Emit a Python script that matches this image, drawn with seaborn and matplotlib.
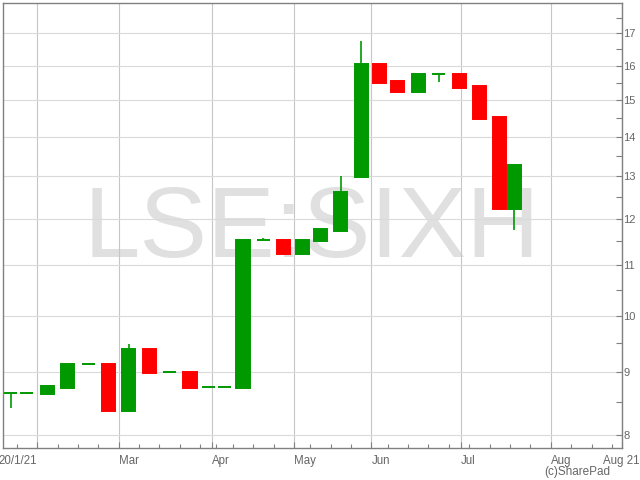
import matplotlib
matplotlib.use('Agg')
import numpy as np
import pandas as pd
import matplotlib.pyplot as plt
from matplotlib.ticker import FixedLocator, FixedFormatter, NullFormatter
import seaborn as sns

sns.set_theme(style='white')
plt.rcParams['font.family'] = ['Liberation Sans', 'DejaVu Sans']

# weekly candles for LSE:SIXH, 20 Jan 2021 - 20 Jul 2021
week_start = ['2021-01-20', '2021-01-25', '2021-02-01', '2021-02-08', '2021-02-15',
              '2021-02-22', '2021-03-01', '2021-03-08', '2021-03-15', '2021-03-22',
              '2021-03-29', '2021-04-06', '2021-04-12', '2021-04-19', '2021-04-26',
              '2021-05-04', '2021-05-10', '2021-05-17', '2021-05-24', '2021-06-01',
              '2021-06-07', '2021-06-14', '2021-06-21', '2021-06-28', '2021-07-05',
              '2021-07-12', '2021-07-19']
last_day = '2021-07-20'
opens = [8.65, 8.65, 8.64, 8.73, 9.13, 9.14, 8.36, 9.39, 9.00, 9.00, 8.75, 8.75, 8.73, 11.52,
         11.53, 11.24, 11.50, 11.73, 12.98, 16.04, 15.54, 15.23, 15.76, 15.76, 15.39, 14.52, 12.22]
highs = [8.65, 8.65, 8.76, 9.14, 9.13, 9.14, 9.49, 9.39, 9.00, 9.00, 8.75, 8.75, 11.53, 11.58,
         11.53, 11.53, 11.77, 13.01, 16.75, 16.04, 15.54, 15.76, 15.76, 15.76, 15.39, 14.52, 13.27]
lows = [8.41, 8.65, 8.64, 8.73, 9.13, 8.36, 8.36, 8.98, 9.00, 8.73, 8.75, 8.75, 8.73, 11.52,
        11.24, 11.24, 11.50, 11.73, 12.98, 15.49, 15.23, 15.23, 15.51, 15.34, 14.47, 12.22, 11.75]
closes = [8.65, 8.65, 8.76, 9.14, 9.13, 8.36, 9.39, 8.98, 9.00, 8.73, 8.75, 8.75, 11.53, 11.52,
          11.24, 11.53, 11.77, 12.62, 16.04, 15.49, 15.23, 15.76, 15.76, 15.34, 14.47, 12.22, 13.27]

month_ticks = ['2021-02-01', '2021-03-01', '2021-04-01', '2021-05-04', '2021-06-01',
               '2021-07-01', '2021-08-02']
month_labels = ['20/1/21', 'Mar', 'Apr', 'May', 'Jun', 'Jul', 'Aug']
end_label = 'Aug 21'
price_ticks = [8, 9, 10, 11, 12, 13, 14, 15, 16, 17]

uk_holidays = ['2021-04-02', '2021-04-05', '2021-05-03', '2021-05-31', '2021-08-30']

UP = '#009900'
DOWN = '#ff0000'
GREY = '#808080'
TXT = '#666666'

# trading-day axis (no weekends / bank holidays), like the SharePad chart
days = pd.bdate_range('2021-01-20', '2021-08-31', freq='C', holidays=uk_holidays)
pos = pd.Series(np.arange(len(days)), index=days)

starts = pd.to_datetime(week_start)
ends = list(starts[1:]) + [pd.Timestamp(last_day) + pd.Timedelta(days=1)]
ndays = np.array([((days >= s) & (days < e)).sum() for s, e in zip(starts, ends)])
x = pos[starts].values + ndays / 2

df = pd.DataFrame({'x': x, 'open': opens, 'high': highs, 'low': lows, 'close': closes})
df['up'] = df['close'] >= df['open']
df['color'] = np.where(df['up'], UP, DOWN)
df['bottom'] = df[['open', 'close']].min(axis=1)
df['height'] = (df['close'] - df['open']).abs()

fig = plt.figure(figsize=(6.4, 4.8), dpi=100)
ax = fig.add_axes([3.3 / 640, 1 - 448 / 480, 618.4 / 640, 445 / 480])

ax.text(0.4987, 0.43, 'LSE:SIXH', transform=ax.transAxes, ha='center', va='baseline',
        fontsize=73, color='black', alpha=0.12, zorder=0)

ax.vlines(df['x'], df['low'], df['high'], colors=df['color'], linewidth=1.2, zorder=2)
ax.bar(df['x'], df['height'], bottom=df['bottom'], width=3.2, color=df['color'],
       edgecolor=df['color'], linewidth=1.4, zorder=3)

ax.set_yscale('log')
ax.yaxis.set_major_locator(FixedLocator(price_ticks))
ax.yaxis.set_major_formatter(FixedFormatter([str(v) for v in price_ticks]))
ax.yaxis.set_minor_locator(FixedLocator(np.arange(8.5, 18, 1)))
ax.yaxis.set_minor_formatter(NullFormatter())
ax.yaxis.tick_right()
ax.set_ylim(7.8, 18.0)

x_right = pos[pd.Timestamp('2021-08-02')] + 17.4
major_x = list(pos[pd.to_datetime(month_ticks)].values) + [x_right]
wk = days.isocalendar().week.values
minor_x = pos.values[1:][wk[1:] != wk[:-1]]
ax.set_xticks(major_x)
ax.set_xticklabels(month_labels + [end_label])
ax.set_xticks(minor_x, minor=True)
ax.set_xlim(-0.3, x_right)
labels = ax.get_xticklabels()
labels[0].set_ha('right')
for lab in labels[1:-1]:
    lab.set_ha('left')
labels[-1].set_ha('center')

ax.tick_params(axis='x', which='major', direction='in', length=4.3, width=0.8,
               color=GREY, labelsize=8.3, labelcolor=TXT, pad=5, bottom=True)
ax.tick_params(axis='x', which='minor', direction='in', length=3, width=0.8,
               color=GREY, bottom=True)
ax.tick_params(axis='y', which='both', direction='in', length=4, width=0.8,
               color=GREY, labelsize=8, labelcolor=TXT, pad=1.2, right=True, left=False)

ax.set_axisbelow(True)
ax.grid(True, which='major', axis='y', color='#dadada', linewidth=0.8)
ax.grid(True, which='major', axis='x', color='#c6c6c6', linewidth=0.8)
for side in ['left', 'right', 'top', 'bottom']:
    ax.spines[side].set_visible(True)
    ax.spines[side].set_color(GREY)
    ax.spines[side].set_linewidth(1.0)

fig.text(577 / 640, 1 - 472 / 480, '(c)SharePad', ha='center', va='center',
         fontsize=8.5, color=TXT)

fig.savefig('out.png', dpi=100)
